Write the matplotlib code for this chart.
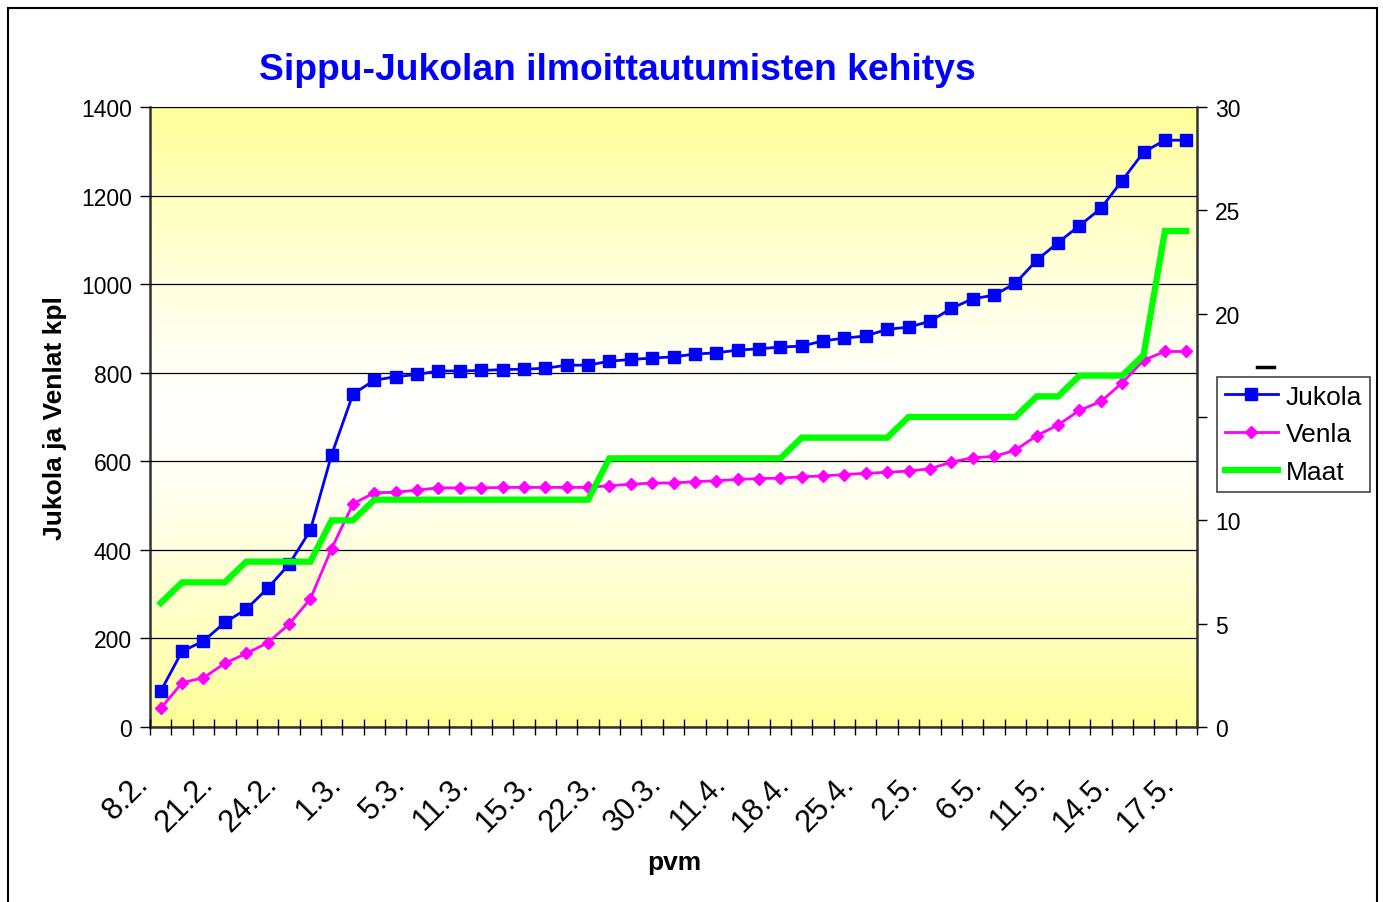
import numpy as np
import matplotlib.pyplot as plt
from matplotlib.colors import LinearSegmentedColormap
from matplotlib.lines import Line2D
from matplotlib.patches import Rectangle
from matplotlib.transforms import ScaledTranslation

plt.rcParams['font.family'] = ['Liberation Sans', 'DejaVu Sans']

# tick labels shown on every third date
pvm_labels = ['8.2.', '21.2.', '24.2.', '1.3.', '5.3.', '11.3.', '15.3.', '22.3.', '30.3.',
              '11.4.', '18.4.', '25.4.', '2.5.', '6.5.', '11.5.', '14.5.', '17.5.']

jukola = [81, 171, 194, 236, 266, 313, 367, 444, 615, 752,
          783, 791, 796, 804, 804, 805, 807, 808, 810, 817,
          817, 826, 830, 833, 836, 842, 845, 851, 854, 858,
          860, 872, 878, 883, 898, 903, 916, 945, 967, 975,
          1002, 1054, 1094, 1132, 1171, 1234, 1298, 1325, 1325]

venla = [42, 100, 111, 144, 166, 190, 232, 289, 403, 504,
         529, 530, 535, 540, 540, 540, 541, 541, 541, 541,
         541, 545, 548, 551, 551, 554, 556, 559, 561, 562,
         565, 567, 570, 573, 575, 578, 583, 598, 608, 611,
         625, 658, 682, 715, 735, 777, 828, 848, 848]

maat = [6, 7, 7, 7, 8, 8, 8, 8, 10, 10,
        11, 11, 11, 11, 11, 11, 11, 11, 11, 11,
        11, 13, 13, 13, 13, 13, 13, 13, 13, 13,
        14, 14, 14, 14, 14, 15, 15, 15, 15, 15,
        15, 16, 16, 17, 17, 17, 18, 24, 24]

n = len(jukola)
x = np.arange(n)

fig = plt.figure(figsize=(13.83, 9.03), dpi=100)
fig.patches.append(Rectangle((0.0055, -0.01), 0.99, 1.0, transform=fig.transFigure,
                             fill=False, edgecolor='black', linewidth=1.5))

ax = fig.add_axes([0.1085, 0.1938, 0.757, 0.6866])
ax2 = ax.twinx()

# yellow-white-yellow gradient background
grad = np.abs(np.linspace(-1, 1, 256)).reshape(-1, 1) ** 1.3
cmap = LinearSegmentedColormap.from_list('bg', ['#FFFFFF', '#FFFF99'])
ax.imshow(grad, extent=[-0.5, n - 0.5, 0, 1400], aspect='auto', cmap=cmap,
          origin='lower', zorder=0)

ax.set_xlim(-0.5, n - 0.5)
ax.set_ylim(0, 1400)
ax2.set_ylim(0, 30)

ax.set_yticks(np.arange(0, 1401, 200))
ax.yaxis.grid(True, color='black', linewidth=0.9)
ax.set_axisbelow(False)
ax2.set_yticks(np.arange(0, 31, 5))

ax.set_xticks(np.arange(-0.5, n, 1), minor=True)
ax.set_xticks(x[::3])
ax.set_xticklabels(pvm_labels, rotation=45, ha='right', va='baseline',
                   rotation_mode='anchor', fontsize=22)
ax.tick_params(axis='x', which='major', length=0, pad=41)
ax.tick_params(axis='x', which='minor', direction='inout', length=11, width=1)
ax.tick_params(axis='y', labelsize=16.5, direction='out', length=7, width=1, pad=6)
ax2.tick_params(axis='y', labelsize=16.5, direction='out', length=7, width=1, pad=6)
# nudge the slanted labels a little left, like the original
shift = ScaledTranslation(-11 / 100, 0, fig.dpi_scale_trans)
for lab in ax.get_xticklabels():
    lab.set_transform(lab.get_transform() + shift)

for sp in ['left', 'bottom']:
    ax.spines[sp].set_color('#333333')
    ax.spines[sp].set_linewidth(1.8)
ax.spines['top'].set_color('#999999')
ax2.spines['top'].set_visible(False)
ax2.spines['right'].set_color('#333333')
ax2.spines['right'].set_linewidth(1.8)
for sp in ['left', 'bottom']:
    ax2.spines[sp].set_visible(False)

l1, = ax.plot(x, jukola, color='#0000FF', linewidth=2, marker='s', markersize=8,
              label='Jukola', zorder=3)
l2, = ax.plot(x, venla, color='#FF00FF', linewidth=2, marker='D', markersize=6,
              label='Venla', zorder=3)
l3, = ax2.plot(x, maat, color='#00FF00', linewidth=4.5, label='Maat',
               solid_joinstyle='miter', zorder=2)

ax.set_ylabel('Jukola ja Venlat kpl', fontsize=19, fontweight='bold', labelpad=10)
fig.text(0.4873, 0.044, 'pvm', fontsize=19, fontweight='bold', ha='center', va='center')
fig.text(0.4465, 0.9216, 'Sippu-Jukolan ilmoittautumisten kehitys', color='#0000FF',
         fontsize=26.8, fontweight='bold', ha='center', va='center')

leg = fig.legend(handles=[l1, l2, l3], loc='upper left',
                 bbox_to_anchor=(0.88, 0.5817), fontsize=19, frameon=True,
                 fancybox=False, edgecolor='#444444', framealpha=1,
                 handlelength=2.0, handletextpad=0.3, borderpad=0.3,
                 labelspacing=0.52, borderaxespad=0)
leg.get_frame().set_linewidth(1.2)

# small dash above the legend
fig.add_artist(Line2D([0.909, 0.921], [0.592, 0.592], transform=fig.transFigure,
                      color='black', linewidth=2.5))

fig.savefig('out.png', dpi=100)
